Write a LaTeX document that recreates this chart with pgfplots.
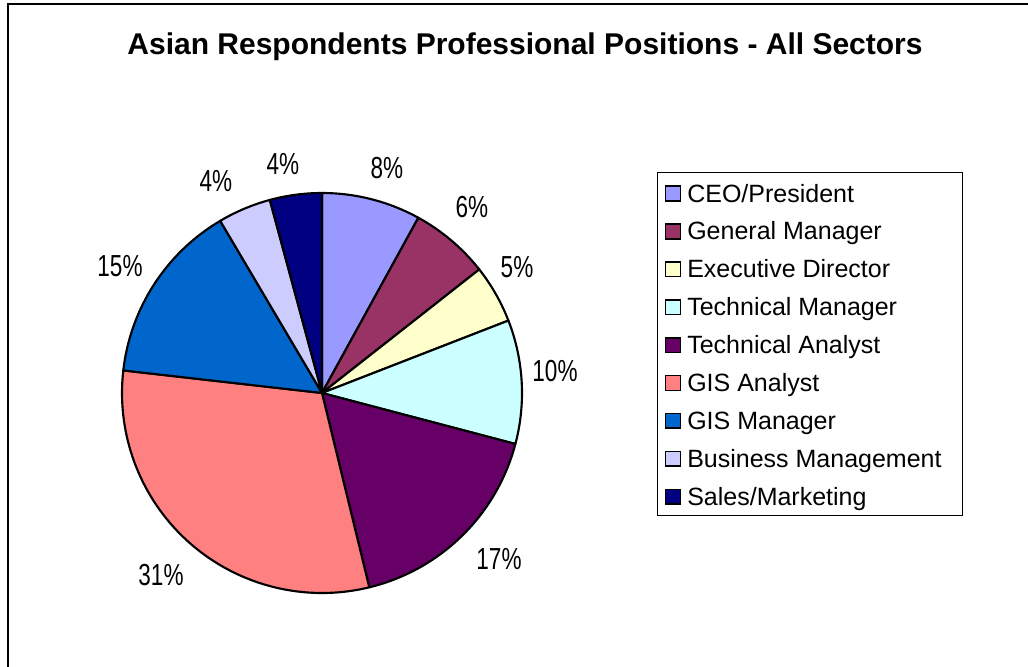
\documentclass[border=0pt]{standalone}
\usepackage{graphicx}
\usepackage{pgfplots}
\pgfplotsset{compat=1.18}
\usepackage{pgfplotstable}
\usepackage{fontspec}
\setmainfont{Liberation Sans}

\definecolor{pie0}{HTML}{9999FF}
\definecolor{pie1}{HTML}{993366}
\definecolor{pie2}{HTML}{FFFFCC}
\definecolor{pie3}{HTML}{CCFFFF}
\definecolor{pie4}{HTML}{660066}
\definecolor{pie5}{HTML}{FF8080}
\definecolor{pie6}{HTML}{0066CC}
\definecolor{pie7}{HTML}{CCCCFF}
\definecolor{pie8}{HTML}{000080}

% value = share in percent, pct = printed label, lx/ly = label position (axis units)
\pgfplotstableread{
name value pct lx ly
CEO/President        8.0  8  0.325  1.125
General-Manager      6.4  6  0.75   0.93
Executive-Director   4.7  5  0.975  0.63
Technical-Manager   10.0 10  1.165  0.11
Technical-Analyst   17.1 17  0.885 -0.83
GIS-Analyst         30.6 31 -0.805 -0.91
GIS-Manager         14.7 15 -1.01   0.635
Business-Management  4.3  4 -0.53   1.06
Sales/Marketing      4.2  4 -0.195  1.145
}\piedata

\def\cumul{0}
\pgfplotsinvokeforeach{0,...,8}{%
  \pgfplotstablegetelem{#1}{value}\of\piedata
  \pgfmathsetmacro\tmpb{\cumul+\pgfplotsretval}%
  \pgfmathsetmacro\tmpa{90-3.6*\cumul}%
  \pgfmathsetmacro\tmpc{90-3.6*\tmpb}%
  \expandafter\xdef\csname pieS#1\endcsname{\tmpa}%
  \expandafter\xdef\csname pieE#1\endcsname{\tmpc}%
  \xdef\cumul{\tmpb}%
  \pgfplotstablegetelem{#1}{lx}\of\piedata
  \expandafter\xdef\csname pieX#1\endcsname{\pgfplotsretval}%
  \pgfplotstablegetelem{#1}{ly}\of\piedata
  \expandafter\xdef\csname pieY#1\endcsname{\pgfplotsretval}%
  \pgfplotstablegetelem{#1}{pct}\of\piedata
  \expandafter\xdef\csname pieL#1\endcsname{\pgfplotsretval}%
}

\newcommand\titlefont{\fontsize{22.5}{26}\selectfont\bfseries}
\newcommand\legfont{\fontsize{18.75}{22}\selectfont}
\newcommand\labfont{\fontsize{16.9}{20}\selectfont}

\begin{document}
\begin{tikzpicture}
\path[use as bounding box] (0,0) rectangle (771pt,-500.25pt);
\fill[white] (0,0) rectangle (771pt,-500.25pt);
\draw[line width=1.1pt] (6pt,-3pt) rectangle (800pt,-530pt);
\node[anchor=base, font=\titlefont] at (393.75pt,-41.25pt)
  {Asian Respondents Professional Positions - All Sectors};
\begin{axis}[
  at={(241.5pt,-294.75pt)}, anchor=origin,
  width=300pt, height=300pt, scale only axis,
  xmin=-1, xmax=1, ymin=-1, ymax=1,
  axis equal image, hide axis, clip=false,
]
\pgfplotsinvokeforeach{0,...,8}{%
  \filldraw[fill=pie#1, draw=black, line width=1.6pt, line join=round]
    (axis cs:0,0) -- ([shift={(\csname pieS#1\endcsname:150pt)}]axis cs:0,0)
    arc[start angle=\csname pieS#1\endcsname, end angle=\csname pieE#1\endcsname, radius=150pt] -- cycle;
  \node[font=\labfont] at (axis cs:\csname pieX#1\endcsname,\csname pieY#1\endcsname)
    {\scalebox{1}[1.35]{\csname pieL#1\endcsname\%}};
}
\end{axis}
% legend
\draw[line width=0.75pt, fill=white] (492.75pt,-129pt) rectangle (721.5pt,-386.25pt);
\foreach \c/\t [count=\k from 0] in {pie0/CEO\slash President, pie1/General Manager,
    pie2/Executive Director, pie3/Technical Manager, pie4/Technical Analyst,
    pie5/GIS Analyst, pie6/GIS Manager, pie7/Business Management, pie8/Sales\slash Marketing}{
  \pgfmathsetmacro\yy{-139.6-28.425*\k}
  \pgfmathsetmacro\yb{-150.6-28.425*\k}
  \pgfmathsetmacro\yt{-151.5-28.425*\k}
  \filldraw[fill=\c, draw=black, line width=1.2pt] (499pt,\yy pt) rectangle (510.5pt,\yb pt);
  \node[anchor=base west, inner sep=0pt, font=\legfont] at (515.25pt,\yt pt) {\t};
}
\end{tikzpicture}
\end{document}
